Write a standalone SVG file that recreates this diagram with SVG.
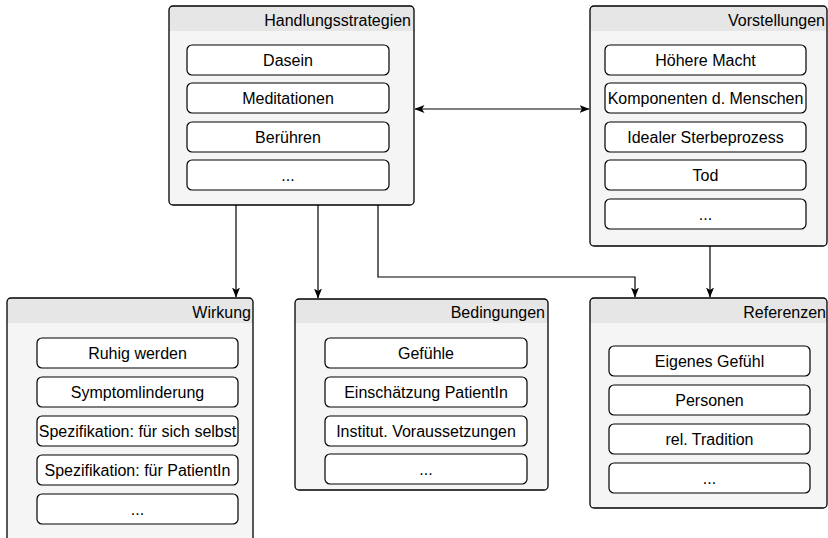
<svg xmlns="http://www.w3.org/2000/svg" width="828" height="538" viewBox="0 0 828 538">
<style>
text{font-family:"Liberation Sans",Arial,Helvetica,sans-serif;font-size:16px;fill:#000}
.c{fill:#f5f5f5;stroke:none}
.co{fill:none;stroke:#000;stroke-width:1.3}
.h{fill:#e6e6e6;stroke:none}
.b{fill:#fff;stroke:#000;stroke-width:1.2}
.t{text-anchor:middle}
.ht{text-anchor:end}
.e{fill:none;stroke:#000;stroke-width:1.2}
</style>
<defs>
<marker id="a" viewBox="0 0 10 10" refX="9.5" refY="5" markerWidth="10" markerHeight="10" markerUnits="userSpaceOnUse" orient="auto-start-reverse">
<path d="M0,1 L10,5 L0,9 L2.5,5 Z" fill="#000"/>
</marker>
</defs>
<rect width="828" height="538" fill="#fff"/>
<g id="connectors">
<path class="e" d="M415 109 H589" marker-start="url(#a)" marker-end="url(#a)"/>
<path class="e" d="M236 205 V297" marker-end="url(#a)"/>
<path class="e" d="M318 205 V298" marker-end="url(#a)"/>
<path class="e" d="M378 205 V277 H635 V297" marker-end="url(#a)"/>
<path class="e" d="M710 246 V297" marker-end="url(#a)"/>
</g>
<g id="handlungsstrategien">
<rect class="c" x="169" y="6" width="245" height="199" rx="4"/>
<path class="h" d="M169 31 V10 Q169 6 173 6 H410 Q414 6 414 10 V31 Z"/>
<rect class="co" x="169" y="6" width="245" height="199" rx="4"/>
<text class="ht" x="411" y="26">Handlungsstrategien</text>
<rect class="b" x="187" y="45" width="202" height="30" rx="5"/>
<text class="t" x="288" y="66">Dasein</text>
<rect class="b" x="187" y="83" width="202" height="30" rx="5"/>
<text class="t" x="288" y="104">Meditationen</text>
<rect class="b" x="187" y="122" width="202" height="30" rx="5"/>
<text class="t" x="288" y="143">Berühren</text>
<rect class="b" x="187" y="160" width="202" height="30" rx="5"/>
<text class="t" x="288" y="181">...</text>
</g>
<g id="vorstellungen">
<rect class="c" x="590" y="6" width="237" height="240" rx="4"/>
<path class="h" d="M590 31 V10 Q590 6 594 6 H823 Q827 6 827 10 V31 Z"/>
<rect class="co" x="590" y="6" width="237" height="240" rx="4"/>
<text class="ht" x="825" y="26">Vorstellungen</text>
<rect class="b" x="605" y="45" width="201" height="30" rx="5"/>
<text class="t" x="705.5" y="66">Höhere Macht</text>
<rect class="b" x="605" y="83" width="201" height="30" rx="5"/>
<text class="t" x="705.5" y="104">Komponenten d. Menschen</text>
<rect class="b" x="605" y="122" width="201" height="30" rx="5"/>
<text class="t" x="705.5" y="143">Idealer Sterbeprozess</text>
<rect class="b" x="605" y="160" width="201" height="30" rx="5"/>
<text class="t" x="705.5" y="181">Tod</text>
<rect class="b" x="605" y="199" width="201" height="30" rx="5"/>
<text class="t" x="705.5" y="220">...</text>
</g>
<g id="wirkung">
<rect class="c" x="7" y="298" width="246" height="244" rx="4"/>
<path class="h" d="M7 323 V302 Q7 298 11 298 H249 Q253 298 253 302 V323 Z"/>
<rect class="co" x="7" y="298" width="246" height="244" rx="4"/>
<text class="ht" x="251" y="318">Wirkung</text>
<rect class="b" x="37" y="338" width="201" height="30" rx="5"/>
<text class="t" x="137.5" y="359">Ruhig werden</text>
<rect class="b" x="37" y="377" width="201" height="30" rx="5"/>
<text class="t" x="137.5" y="398">Symptomlinderung</text>
<rect class="b" x="37" y="416" width="201" height="30" rx="5"/>
<text class="t" x="137.5" y="437">Spezifikation: für sich selbst</text>
<rect class="b" x="37" y="455" width="201" height="30" rx="5"/>
<text class="t" x="137.5" y="476">Spezifikation: für PatientIn</text>
<rect class="b" x="37" y="494" width="201" height="30" rx="5"/>
<text class="t" x="137.5" y="515">...</text>
</g>
<g id="bedingungen">
<rect class="c" x="295" y="299" width="253" height="191" rx="4"/>
<path class="h" d="M295 323 V303 Q295 299 299 299 H544 Q548 299 548 303 V323 Z"/>
<rect class="co" x="295" y="299" width="253" height="191" rx="4"/>
<text class="ht" x="545" y="318">Bedingungen</text>
<rect class="b" x="325" y="338" width="202" height="30" rx="5"/>
<text class="t" x="426" y="359">Gefühle</text>
<rect class="b" x="325" y="377" width="202" height="30" rx="5"/>
<text class="t" x="426" y="398">Einschätzung PatientIn</text>
<rect class="b" x="325" y="416" width="202" height="30" rx="5"/>
<text class="t" x="426" y="437">Institut. Voraussetzungen</text>
<rect class="b" x="325" y="454" width="202" height="30" rx="5"/>
<text class="t" x="426" y="475">...</text>
</g>
<g id="referenzen">
<rect class="c" x="590" y="298" width="237" height="210" rx="4"/>
<path class="h" d="M590 323 V302 Q590 298 594 298 H823 Q827 298 827 302 V323 Z"/>
<rect class="co" x="590" y="298" width="237" height="210" rx="4"/>
<text class="ht" x="826" y="318">Referenzen</text>
<rect class="b" x="609" y="346" width="201" height="30" rx="5"/>
<text class="t" x="709.5" y="367">Eigenes Gefühl</text>
<rect class="b" x="609" y="385" width="201" height="30" rx="5"/>
<text class="t" x="709.5" y="406">Personen</text>
<rect class="b" x="609" y="424" width="201" height="30" rx="5"/>
<text class="t" x="709.5" y="445">rel. Tradition</text>
<rect class="b" x="609" y="463" width="201" height="30" rx="5"/>
<text class="t" x="709.5" y="484">...</text>
</g>
</svg>
